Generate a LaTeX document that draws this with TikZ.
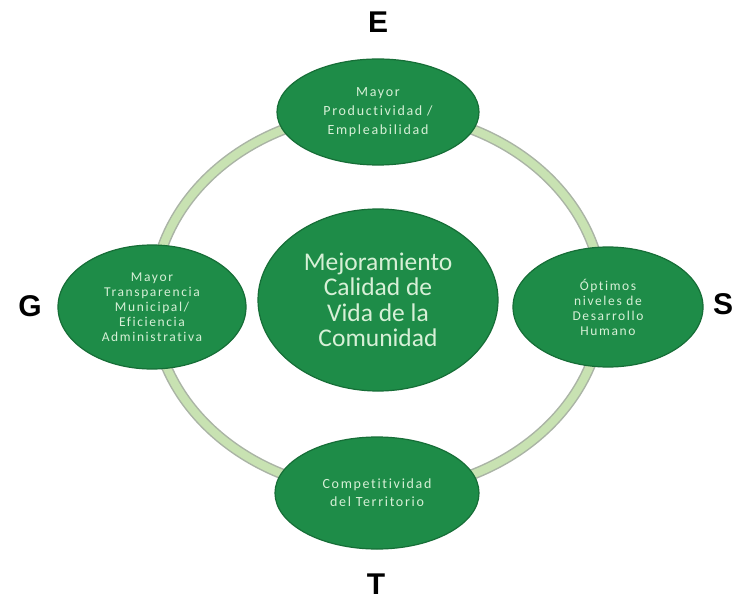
\documentclass[tikz,border=0pt]{standalone}
\usepackage{fontspec}
\setmainfont{Carlito}[Ligatures=NoCommon]
\newfontfamily\letterfont{Liberation Sans}
\usetikzlibrary{shapes.geometric}
\definecolor{ellgreen}{RGB}{30,140,72}
\definecolor{elledge}{RGB}{22,110,55}
\definecolor{ringgreen}{RGB}{200,226,178}
\definecolor{ringedge}{RGB}{170,180,165}
\definecolor{txtgreen}{RGB}{215,240,215}
\tikzset{
  bubble/.style={ellipse, fill=ellgreen, draw=elledge, line width=1.2pt, inner sep=0pt,
    text=txtgreen, align=center},
  outertext/.style={font=\fontsize{13.5}{15}\selectfont\addfontfeatures{LetterSpace=12}},
  letter/.style={font=\letterfont\bfseries\fontsize{30}{30}\selectfont, text=black}
}
\begin{document}
\begin{tikzpicture}[x=1pt,y=-1pt]
\useasboundingbox (0,0) rectangle (735,604);
\fill[white] (0,0) rectangle (735,604);
% ring
\node[ellipse, minimum width=450pt, minimum height=380pt, draw=ringedge, line width=11pt] (ringo) at (378,302) {};
\node[ellipse, minimum width=450pt, minimum height=380pt, draw=ringgreen, line width=8pt] (ringi) at (378,302) {};
% bubbles
\node[bubble, minimum width=240pt, minimum height=182pt, font=\fontsize{25.5}{25.5}\selectfont] (center) at (378,300)
  {Mejoramiento\\Calidad de\\Vida de la\\Comunidad};
\node[bubble, minimum width=202pt, minimum height=106pt, font=\fontsize{14}{19}\selectfont\addfontfeatures{LetterSpace=12}] (e) at (378,112)
  {Mayor\\Productividad /\\Empleabilidad};
\node[bubble, outertext, minimum width=188pt, minimum height=124pt] (g) at (152,307)
  {Mayor\\Transparencia\\Municipal/\\Eficiencia\\Administrativa};
\node[bubble, outertext, minimum width=190pt, minimum height=120pt] (s) at (608,307)
  {Óptimos\\niveles de\\Desarrollo\\Humano};
\node[bubble, minimum width=204pt, minimum height=112pt, font=\fontsize{14}{18}\selectfont\addfontfeatures{LetterSpace=12}] (t) at (377,493)
  {Competitividad\\del Territorio};
% letters
\node[letter] (le) at (378,22) {E};
\node[letter] (lg) at (30,306) {G};
\node[letter] (ls) at (723,304) {S};
\node[letter] (lt) at (376,584) {T};
\end{tikzpicture}
\end{document}
